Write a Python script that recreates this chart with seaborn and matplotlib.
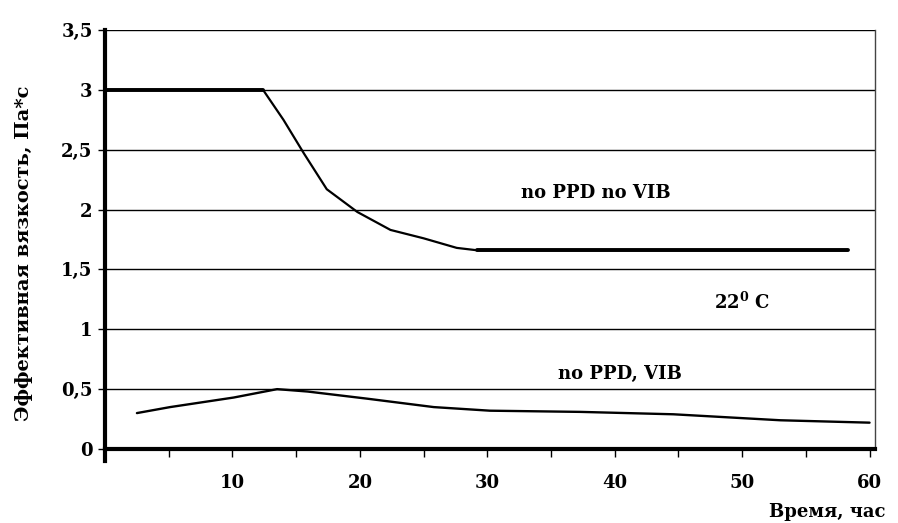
import numpy as np
import pandas as pd
import matplotlib
matplotlib.use("Agg")
import matplotlib.pyplot as plt
from matplotlib.ticker import MultipleLocator, FuncFormatter
import seaborn as sns

# no PPD, no VIB (upper curve)
t_novib = [0, 12.4, 14.0, 15.6, 17.4, 19.8, 22.4, 25.0, 27.6, 29.2, 58.3]
mu_novib = [3.0, 3.0, 2.75, 2.47, 2.17, 1.98, 1.83, 1.76, 1.68, 1.66, 1.66]

# no PPD, with VIB (lower curve)
t_vib = [2.5, 5.1, 10.1, 13.5, 15.9, 20.6, 25.8, 30.2, 37.3, 44.6, 53.0, 60.0]
mu_vib = [0.30, 0.35, 0.43, 0.50, 0.48, 0.42, 0.35, 0.32, 0.31, 0.29, 0.24, 0.22]

sns.set_style("white")
plt.rcParams["font.family"] = ["DejaVu Serif"]
plt.rcParams["font.weight"] = "bold"
plt.rcParams["mathtext.fontset"] = "dejavuserif"
for k in ["text.color", "axes.labelcolor", "xtick.color", "ytick.color"]:
    plt.rcParams[k] = "black"

fig = plt.figure(figsize=(8.98, 5.23), dpi=100)
ax = fig.add_axes([0.117, 0.1415, 0.857, 0.8011])

df_a = pd.DataFrame({"t": t_novib, "mu": mu_novib})
df_b = pd.DataFrame({"t": t_vib, "mu": mu_vib})
sns.lineplot(data=df_a, x="t", y="mu", ax=ax, color="black", lw=1.6, sort=False)
# flat plateaus drawn heavier, as in the original
sns.lineplot(data=df_a.iloc[:2], x="t", y="mu", ax=ax, color="black", lw=2.8, sort=False)
sns.lineplot(data=df_a.iloc[-2:], x="t", y="mu", ax=ax, color="black", lw=2.8, sort=False)
sns.lineplot(data=df_b, x="t", y="mu", ax=ax, color="black", lw=1.7, sort=False)

ax.set_xlim(0, 60.4)
ax.set_ylim(0, 3.5)
ax.yaxis.set_major_locator(MultipleLocator(0.5))
ax.xaxis.set_major_locator(MultipleLocator(10))
ax.xaxis.set_minor_locator(MultipleLocator(5))
ax.yaxis.set_major_formatter(FuncFormatter(lambda v, p: f"{v:g}".replace(".", ",")))
ax.xaxis.set_major_formatter(FuncFormatter(lambda v, p: "" if v == 0 else f"{v:g}"))
ax.grid(axis="y", color="black", lw=1.0)
ax.set_axisbelow(True)

for s in ["left", "bottom"]:
    ax.spines[s].set_linewidth(3)
    ax.spines[s].set_color("black")
ax.spines["right"].set_linewidth(1)
ax.spines["right"].set_color("#444444")
ax.spines["top"].set_visible(False)
ax.spines["left"].set_bounds(-0.1, 3.5)

ax.tick_params(axis="y", which="major", direction="out", length=5, width=1,
               labelsize=13, pad=4, left=True)
ax.tick_params(axis="x", which="both", direction="out", length=6, width=1,
               labelsize=13, pad=12, bottom=True)

ax.set_xlabel("")
ax.set_ylabel("Эффективная вязкость, Па*с", fontsize=14, fontweight="bold")
ax.yaxis.set_label_coords(-0.094, 0.468)
fig.text(0.921, 0.021, "Время, час", fontsize=13, fontweight="bold", ha="center", va="center")

ax.text(38.5, 2.14, "no PPD no VIB", fontsize=13, fontweight="bold", ha="center", va="center")
ax.text(50.0, 1.23, r"22$^{\mathbf{0}}$ C", fontsize=13, fontweight="bold", ha="center", va="center")
ax.text(40.4, 0.63, "no PPD, VIB", fontsize=13, fontweight="bold", ha="center", va="center")

fig.savefig("out.png", dpi=100)
